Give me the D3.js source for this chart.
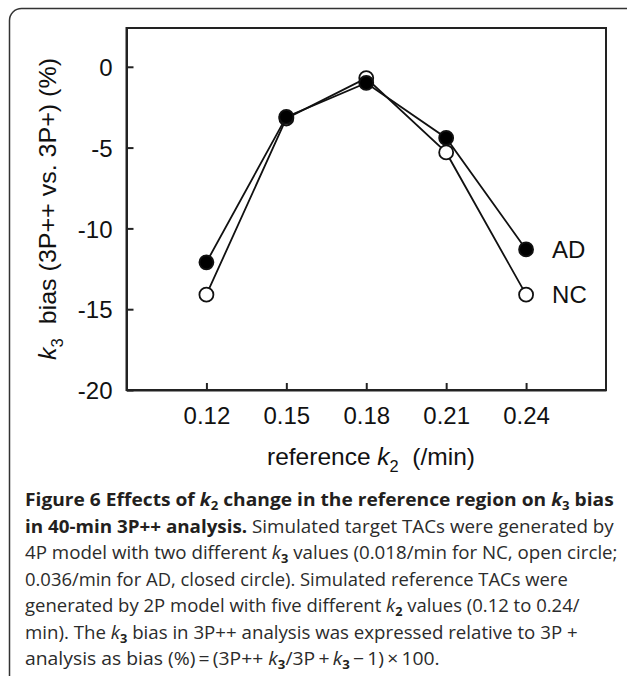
<!DOCTYPE html>
<html><head><meta charset="utf-8">
<script src="https://cdn.jsdelivr.net/npm/d3@7"></script>
<style>body{margin:0;background:#fff}svg{display:block}</style>
</head><body>
<script>
// ---- data ----
const k2Values = [0.12, 0.15, 0.18, 0.21, 0.24];
const ncBias = [-14.1, -3.2, -0.7, -5.3, -14.1];   // NC, open circle
const adBias = [-12.1, -3.1, -1.0, -4.4, -11.3];   // AD, closed circle
const xTickLabels = ["0.12", "0.15", "0.18", "0.21", "0.24"];
const yTickValues = [0, -5, -10, -15, -20];
const seriesNames = ["NC", "AD"];

const W = 627, H = 676;
const svg = d3.select("body").append("svg").attr("width", W).attr("height", H);

// outer rounded box
svg.append("rect").attr("x", 9.5).attr("y", 8.5).attr("width", 640).attr("height", 700)
  .attr("rx", 12).attr("fill", "none").attr("stroke", "#333").attr("stroke-width", 1.5);

const L = 126.5, R = 606, T = 28, B = 390;
const x = d3.scaleLinear().domain([0.09, 0.27]).range([L, R]);
const y = d3.scaleLinear().domain([-20, 2.4]).range([B, T]);
const font = "'Liberation Sans', Arial, sans-serif";
const FS = 24;

// frame
svg.append("rect").attr("x", L).attr("y", T).attr("width", R - L).attr("height", B - T)
  .attr("fill", "none").attr("stroke", "#222").attr("stroke-width", 2);

const xAxis = svg.append("g").attr("transform", `translate(0,${B})`)
  .call(d3.axisBottom(x).tickValues(k2Values).tickFormat((d, i) => xTickLabels[i])
    .tickSizeInner(-7).tickSizeOuter(0).tickPadding(17));
const yAxis = svg.append("g").attr("transform", `translate(${L},0)`)
  .call(d3.axisLeft(y).tickValues(yTickValues).tickFormat(d => String(d))
    .tickSizeInner(-7).tickSizeOuter(0).tickPadding(14));
[xAxis, yAxis].forEach(a => {
  a.select(".domain").attr("stroke", "#222").attr("stroke-width", 2);
  a.selectAll(".tick line").attr("stroke", "#222").attr("stroke-width", 2);
  a.selectAll(".tick text").attr("font-family", font).attr("font-size", FS).attr("fill", "#111");
});
yAxis.selectAll(".tick text").attr("dy", "0.36em");

// axis titles
const xt = svg.append("text").attr("x", 371).attr("y", 465).attr("text-anchor", "middle")
  .attr("font-family", font).attr("font-size", FS).attr("fill", "#111")
  .attr("textLength", 208).attr("lengthAdjust", "spacingAndGlyphs");
xt.append("tspan").text("reference ");
xt.append("tspan").attr("font-style", "italic").text("k");
xt.append("tspan").attr("font-size", 16).attr("dy", 7).text("2");
xt.append("tspan").attr("dy", -7).text("\u00a0 (/min)");

const yt = svg.append("text").attr("transform", "translate(56,209) rotate(-90)")
  .attr("text-anchor", "middle").attr("font-family", font).attr("font-size", FS).attr("fill", "#111")
  .attr("textLength", 302).attr("lengthAdjust", "spacingAndGlyphs");
yt.append("tspan").attr("font-style", "italic").text("k");
yt.append("tspan").attr("font-size", 16).attr("dy", 7).text("3");
yt.append("tspan").attr("dy", -7).text("\u00a0 bias (3P++ vs. 3P+) (%)");

// series
const line = d3.line().x((d, i) => x(k2Values[i])).y(d => y(d));
const series = [
  {name: "NC", vals: ncBias, fill: "#fff"},
  {name: "AD", vals: adBias, fill: "#000"}
];
series.forEach(s => {
  svg.append("path").datum(s.vals).attr("d", line).attr("fill", "none")
    .attr("stroke", "#111").attr("stroke-width", 1.8);
});
series.forEach(s => {
  svg.append("g").selectAll("circle").data(s.vals).join("circle")
    .attr("cx", (d, i) => x(k2Values[i])).attr("cy", d => y(d)).attr("r", 7)
    .attr("fill", s.fill).attr("stroke", "#111").attr("stroke-width", 1.8);
});
// series labels
series.forEach(s => {
  const last = s.vals[s.vals.length - 1];
  svg.append("text").attr("x", x(k2Values[k2Values.length - 1]) + 26).attr("y", y(last))
    .attr("dy", "0.36em").attr("font-family", font).attr("font-size", FS).attr("fill", "#111")
    .text(s.name);
});

// caption
const cap = [
  {w: 589, segs: [["Figure 6 Effects of ","b"],["k","bi"],["2","bsub"],[" change in the reference region on ","b"],["k","bi"],["3","bsub"],[" bias","b"]]},
  {w: 589, segs: [["in 40-min 3P++ analysis.","b"],[" Simulated target TACs were generated by",""]]},
  {w: 593, segs: [["4P model with two different ",""],["k","i"],["3","sub"],[" values (0.018/min for NC, open circle;",""]]},
  {w: 543, segs: [["0.036/min for AD, closed circle). Simulated reference TACs were",""]]},
  {w: 555, segs: [["generated by 2P model with five different ",""],["k","i"],["2","sub"],[" values (0.12 to 0.24/",""]]},
  {w: 553, segs: [["min). The ",""],["k","i"],["3","sub"],[" bias in 3P++ analysis was expressed relative to 3P +",""]]},
  {w: 415, segs: [["analysis as bias (%)\u2009=\u2009(3P++ ",""],["k","i"],["3","sub"],["/3P\u2009+\u2009",""],["k","i"],["3","sub"],["\u2009\u2212\u20091)\u2009\u00d7\u2009100.",""]]}
];
cap.forEach((ln, li) => {
  const by = 506 + li * 26.5;
  const t = svg.append("text").attr("x", 0).attr("y", 0)
    .attr("font-family", "'Open Sans', sans-serif").attr("font-size", 17.5).attr("fill", "#231f20");
  let shifted = false;
  ln.segs.forEach(([txt, st]) => {
    const sp = t.append("tspan").text(txt);
    if (st.includes("b")) sp.attr("font-weight", 700);
    else sp.attr("fill", "#2b2b2b");
    if (st.includes("i")) sp.attr("font-style", "italic");
    if (st.includes("sub")) { sp.attr("font-size", 12).attr("dy", 4); shifted = true; }
    else if (shifted) { sp.attr("dy", -4); shifted = false; }
  });
  const len = t.node().getComputedTextLength();
  t.attr("transform", `translate(25,${by}) scale(${ln.w / len},1)`);
});
</script>
</body></html>
